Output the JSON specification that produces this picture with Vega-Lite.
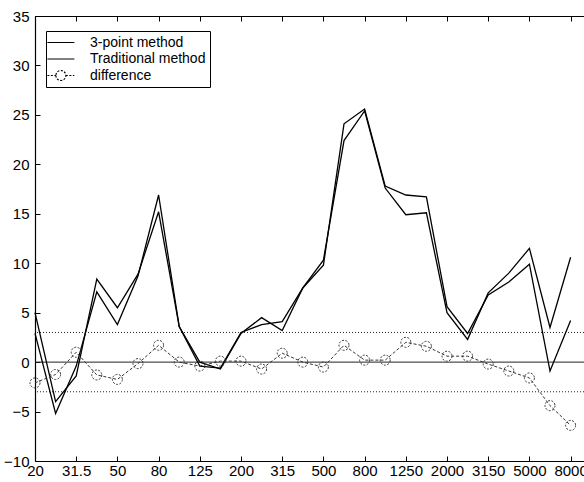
{
  "$schema": "https://vega.github.io/schema/vega-lite/v6.json",
  "width": 549,
  "height": 445,
  "autosize": {"type": "none"},
  "padding": {"left": 35, "top": 16, "right": 0, "bottom": 21},
  "background": "white",
  "config": {
    "view": {"stroke": null},
    "font": "Liberation Sans",
    "axis": {
      "domainColor": "black",
      "domainWidth": 1.2,
      "tickColor": "black",
      "tickWidth": 1,
      "labelColor": "black",
      "labelFont": "Liberation Sans",
      "labelFontSize": 15,
      "grid": false,
      "title": null
    }
  },
  "datasets": {
    "curves": [
      {"i": 1, "f": "20", "series": "3-point method", "v": 2.9},
      {"i": 2, "f": "25", "series": "3-point method", "v": -5.2},
      {"i": 3, "f": "31.5", "series": "3-point method", "v": -0.4},
      {"i": 4, "f": "40", "series": "3-point method", "v": 7.1},
      {"i": 5, "f": "50", "series": "3-point method", "v": 3.8},
      {"i": 6, "f": "63", "series": "3-point method", "v": 8.7},
      {"i": 7, "f": "80", "series": "3-point method", "v": 16.9},
      {"i": 8, "f": "100", "series": "3-point method", "v": 3.6},
      {"i": 9, "f": "125", "series": "3-point method", "v": -0.4},
      {"i": 10, "f": "160", "series": "3-point method", "v": -0.6},
      {"i": 11, "f": "200", "series": "3-point method", "v": 3.0},
      {"i": 12, "f": "250", "series": "3-point method", "v": 3.8},
      {"i": 13, "f": "315", "series": "3-point method", "v": 4.1},
      {"i": 14, "f": "400", "series": "3-point method", "v": 7.5},
      {"i": 15, "f": "500", "series": "3-point method", "v": 9.8},
      {"i": 16, "f": "630", "series": "3-point method", "v": 24.1},
      {"i": 17, "f": "800", "series": "3-point method", "v": 25.6},
      {"i": 18, "f": "1000", "series": "3-point method", "v": 17.8},
      {"i": 19, "f": "1250", "series": "3-point method", "v": 16.9},
      {"i": 20, "f": "1600", "series": "3-point method", "v": 16.7},
      {"i": 21, "f": "2000", "series": "3-point method", "v": 5.6},
      {"i": 22, "f": "2500", "series": "3-point method", "v": 2.9},
      {"i": 23, "f": "3150", "series": "3-point method", "v": 6.8},
      {"i": 24, "f": "4000", "series": "3-point method", "v": 8.1},
      {"i": 25, "f": "5000", "series": "3-point method", "v": 9.9},
      {"i": 26, "f": "6300", "series": "3-point method", "v": -0.9},
      {"i": 27, "f": "8000", "series": "3-point method", "v": 4.2},
      {"i": 1, "f": "20", "series": "Traditional method", "v": 5.0},
      {"i": 2, "f": "25", "series": "Traditional method", "v": -4.0},
      {"i": 3, "f": "31.5", "series": "Traditional method", "v": -1.4},
      {"i": 4, "f": "40", "series": "Traditional method", "v": 8.4},
      {"i": 5, "f": "50", "series": "Traditional method", "v": 5.5},
      {"i": 6, "f": "63", "series": "Traditional method", "v": 8.9},
      {"i": 7, "f": "80", "series": "Traditional method", "v": 15.2},
      {"i": 8, "f": "100", "series": "Traditional method", "v": 3.6},
      {"i": 9, "f": "125", "series": "Traditional method", "v": 0.0},
      {"i": 10, "f": "160", "series": "Traditional method", "v": -0.7},
      {"i": 11, "f": "200", "series": "Traditional method", "v": 2.9},
      {"i": 12, "f": "250", "series": "Traditional method", "v": 4.5},
      {"i": 13, "f": "315", "series": "Traditional method", "v": 3.2},
      {"i": 14, "f": "400", "series": "Traditional method", "v": 7.5},
      {"i": 15, "f": "500", "series": "Traditional method", "v": 10.3},
      {"i": 16, "f": "630", "series": "Traditional method", "v": 22.4},
      {"i": 17, "f": "800", "series": "Traditional method", "v": 25.4},
      {"i": 18, "f": "1000", "series": "Traditional method", "v": 17.6},
      {"i": 19, "f": "1250", "series": "Traditional method", "v": 14.9},
      {"i": 20, "f": "1600", "series": "Traditional method", "v": 15.1},
      {"i": 21, "f": "2000", "series": "Traditional method", "v": 5.0},
      {"i": 22, "f": "2500", "series": "Traditional method", "v": 2.3},
      {"i": 23, "f": "3150", "series": "Traditional method", "v": 7.0},
      {"i": 24, "f": "4000", "series": "Traditional method", "v": 9.0},
      {"i": 25, "f": "5000", "series": "Traditional method", "v": 11.5},
      {"i": 26, "f": "6300", "series": "Traditional method", "v": 3.5},
      {"i": 27, "f": "8000", "series": "Traditional method", "v": 10.6},
      {"i": 1, "f": "20", "series": "difference", "v": -2.1},
      {"i": 2, "f": "25", "series": "difference", "v": -1.25},
      {"i": 3, "f": "31.5", "series": "difference", "v": 1.0},
      {"i": 4, "f": "40", "series": "difference", "v": -1.3},
      {"i": 5, "f": "50", "series": "difference", "v": -1.75},
      {"i": 6, "f": "63", "series": "difference", "v": -0.15},
      {"i": 7, "f": "80", "series": "difference", "v": 1.7},
      {"i": 8, "f": "100", "series": "difference", "v": 0.0},
      {"i": 9, "f": "125", "series": "difference", "v": -0.4},
      {"i": 10, "f": "160", "series": "difference", "v": 0.1},
      {"i": 11, "f": "200", "series": "difference", "v": 0.1},
      {"i": 12, "f": "250", "series": "difference", "v": -0.7},
      {"i": 13, "f": "315", "series": "difference", "v": 0.9},
      {"i": 14, "f": "400", "series": "difference", "v": 0.0},
      {"i": 15, "f": "500", "series": "difference", "v": -0.5},
      {"i": 16, "f": "630", "series": "difference", "v": 1.7},
      {"i": 17, "f": "800", "series": "difference", "v": 0.2},
      {"i": 18, "f": "1000", "series": "difference", "v": 0.2},
      {"i": 19, "f": "1250", "series": "difference", "v": 2.0},
      {"i": 20, "f": "1600", "series": "difference", "v": 1.6},
      {"i": 21, "f": "2000", "series": "difference", "v": 0.6},
      {"i": 22, "f": "2500", "series": "difference", "v": 0.6},
      {"i": 23, "f": "3150", "series": "difference", "v": -0.2},
      {"i": 24, "f": "4000", "series": "difference", "v": -0.9},
      {"i": 25, "f": "5000", "series": "difference", "v": -1.6},
      {"i": 26, "f": "6300", "series": "difference", "v": -4.4},
      {"i": 27, "f": "8000", "series": "difference", "v": -6.4}
    ],
    "limits": [{"v": 3}, {"v": -3}],
    "zero": [{"v": 0}]
  },
  "resolve": {"axis": {"x": "independent"}},
  "layer": [
    {
      "data": {"name": "limits"},
      "mark": {"type": "rule", "color": "#222", "strokeWidth": 1, "strokeDash": [1, 2]},
      "encoding": {
        "y": {"field": "v", "type": "quantitative", "scale": {"domain": [-10, 35], "nice": false, "zero": false},
          "axis": {"values": [-10, -5, 0, 5, 10, 15, 20, 25, 30, 35], "tickSize": -5, "labelPadding": 11, "domain": true}}
      }
    },
    {
      "data": {"name": "zero"},
      "mark": {"type": "rule", "color": "#222", "strokeWidth": 1},
      "encoding": {
        "y": {"field": "v", "type": "quantitative"}
      }
    },
    {
      "data": {"name": "curves"},
      "transform": [{"filter": "datum.series !== 'difference'"}],
      "mark": {"type": "line", "color": "black", "strokeWidth": 1.3},
      "encoding": {
        "x": {"field": "i", "type": "quantitative", "scale": {"domain": [1, 27.65], "nice": false, "zero": false},
          "axis": {"orient": "bottom", "values": [1, 3, 5, 7, 9, 11, 13, 15, 17, 19, 21, 23, 25, 27], "tickSize": -5, "labelPadding": 7, "labelFlush": false, "labelOverlap": false,
            "labelExpr": "['20','25','31.5','40','50','63','80','100','125','160','200','250','315','400','500','630','800','1000','1250','1600','2000','2500','3150','4000','5000','6300','8000'][datum.value - 1]"}},
        "y": {"field": "v", "type": "quantitative"},
        "detail": {"field": "series", "type": "nominal"}
      }
    },
    {
      "data": {"name": "curves"},
      "transform": [{"filter": "datum.series === 'difference'"}],
      "mark": {"type": "line", "color": "#333", "strokeWidth": 1, "strokeDash": [3, 2]},
      "encoding": {
        "x": {"field": "i", "type": "quantitative",
          "axis": {"orient": "top", "values": [1, 3, 5, 7, 9, 11, 13, 15, 17, 19, 21, 23, 25, 27], "tickSize": -5, "labels": false, "domain": true}},
        "y": {"field": "v", "type": "quantitative"}
      }
    },
    {
      "data": {"name": "curves"},
      "transform": [{"filter": "datum.series === 'difference'"}],
      "mark": {"type": "point", "shape": "circle", "filled": false, "color": "#333", "size": 100, "strokeWidth": 1, "strokeDash": [2, 1.5], "opacity": 1},
      "encoding": {
        "x": {"field": "i", "type": "quantitative", "axis": null},
        "y": {"field": "v", "type": "quantitative"}
      }
    },
    {
      "data": {"name": "curves"},
      "mark": {"type": "point", "filled": false, "color": "black", "opacity": 0},
      "encoding": {
        "x": {"field": "i", "type": "quantitative", "axis": null},
        "y": {"field": "v", "type": "quantitative"},
        "shape": {"field": "series", "type": "nominal",
          "scale": {"domain": ["3-point method", "Traditional method", "difference"],
            "range": ["M-1.5,0H2.5", "M-1.5,0H2.5", "M-1.5,0H-0.24M1.24,0H2.5M-0.24,0A0.74,0.74,0,1,0,1.24,0A0.74,0.74,0,1,0,-0.24,0"]},
          "legend": {"title": null, "orient": "none", "legendX": 11, "legendY": 15, "strokeColor": "black", "fillColor": "white", "padding": 4,
            "labelFontSize": 14, "labelFont": "Liberation Sans", "labelColor": "black", "labelLimit": 300, "labelOffset": 25,
            "symbolSize": 182, "symbolStrokeColor": "black", "symbolStrokeWidth": 1.2, "symbolOpacity": 1, "symbolFillColor": "transparent", "rowPadding": 1.5}},
        "strokeDash": {"field": "series", "type": "nominal",
          "scale": {"domain": ["3-point method", "Traditional method", "difference"], "range": [[1, 0], [1, 0], [2, 1.5]]},
          "legend": {"title": null, "orient": "none", "legendX": 11, "legendY": 15, "strokeColor": "black", "fillColor": "white", "padding": 4,
            "labelFontSize": 14, "labelFont": "Liberation Sans", "labelColor": "black", "labelLimit": 300, "labelOffset": 25,
            "symbolSize": 182, "symbolStrokeColor": "black", "symbolStrokeWidth": 1.2, "symbolOpacity": 1, "symbolFillColor": "transparent", "rowPadding": 1.5}}
      }
    }
  ]
}
